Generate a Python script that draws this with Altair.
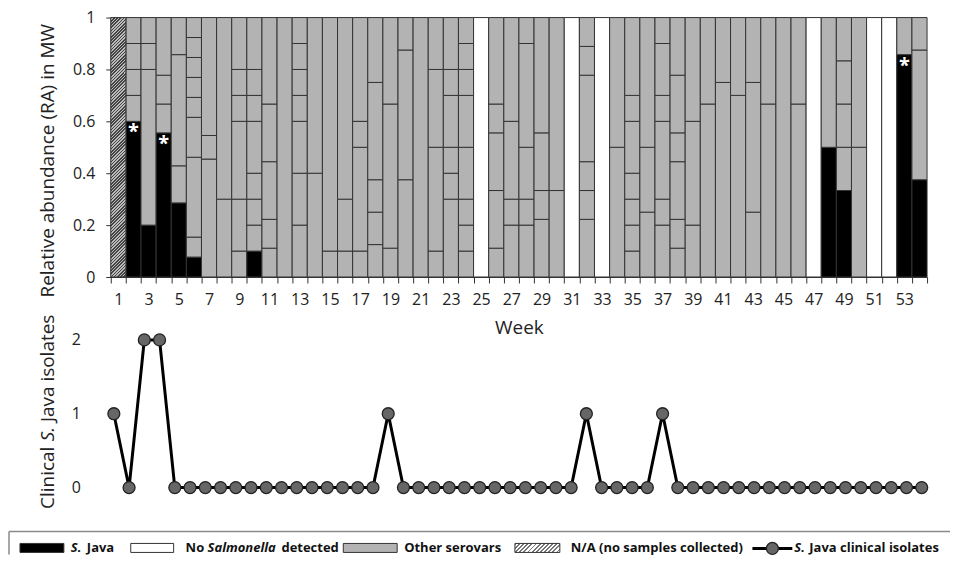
import altair as alt
import pandas as pd

# ---------------- data ----------------
weeks = list(range(1, 55))
na_weeks = [1]                              # no samples collected
none_weeks = [25, 31, 33, 47, 51, 52]       # no Salmonella detected
java_counts = [0, 6, 2, 5, 2, 1, 0, 0, 0, 1,
               0, 0, 0, 0, 0, 0, 0, 0, 0, 0,
               0, 0, 0, 0, 0, 0, 0, 0, 0, 0,
               0, 0, 0, 0, 0, 0, 0, 0, 0, 0,
               0, 0, 0, 0, 0, 0, 0, 1, 2, 0,
               0, 0, 6, 3]
other_counts = [
    [], [1, 1, 1, 1], [6, 1, 1], [1, 1, 2], [1, 3, 1],
    [1, 4, 2, 1, 1, 1, 1, 1], [5, 1, 5], [3, 7], [1, 2, 3, 1, 1, 2],
    [1, 1, 1, 2, 1, 1, 2], [1, 1, 2, 2, 3], [1], [2, 2, 2, 1, 1, 1, 1],
    [2, 3], [1, 9], [1, 2, 7], [1, 4, 1, 4], [1, 1, 1, 3, 2], [1, 5, 3],
    [3, 4, 1], [1], [1, 4, 3, 2], [3, 1, 1, 2, 1, 2], [1, 1, 1, 2, 2, 1, 1, 1],
    [], [1, 2, 2, 1, 3], [2, 1, 3, 4], [2, 1, 2, 4, 1], [2, 1, 2, 4], [1, 2],
    [], [2, 1, 1, 3, 1, 1], [], [1, 1], [1, 1, 1, 1, 2, 1, 3], [1, 1, 2],
    [2, 1, 3, 1, 2, 1], [1, 1, 2, 1, 2, 2], [1, 2, 2], [2, 1], [3, 1], [7, 3],
    [1, 2, 1], [2, 1], [1], [2, 1], [], [1], [1, 1, 1, 1], [1, 1], [], [],
    [1], [4, 1],
]
star_weeks = [2, 4, 53]
clinical = [1, 0, 2, 2, 0, 0, 0, 0, 0, 0,
            0, 0, 0, 0, 0, 0, 0, 0, 1, 0,
            0, 0, 0, 0, 0, 0, 0, 0, 0, 0,
            0, 1, 0, 0, 0, 0, 1, 0, 0, 0,
            0, 0, 0, 0, 0, 0, 0, 0, 0, 0,
            0, 0, 0, 0]
clinical_ticks = [0, 1, 2]

# ---------------- tables ----------------
rows = []
for i, w in enumerate(weeks):
    if w in na_weeks:
        rows.append(dict(week=w, y0=0.0, y1=1.0, cat="na"))
        continue
    if w in none_weeks:
        rows.append(dict(week=w, y0=0.0, y1=1.0, cat="none"))
        continue
    total = java_counts[i] + sum(other_counts[i])
    c = 0
    if java_counts[i] > 0:
        rows.append(dict(week=w, y0=0.0, y1=java_counts[i] / total, cat="java"))
        c = java_counts[i]
    for o in other_counts[i]:
        rows.append(dict(week=w, y0=c / total, y1=(c + o) / total, cat="other"))
        c += o
seg = pd.DataFrame(rows)

stars = pd.DataFrame({
    "week": star_weeks,
    "y": [java_counts[w - 1] / (java_counts[w - 1] + sum(other_counts[w - 1])) for w in star_weeks],
})
clin = pd.DataFrame({"week": weeks, "n": clinical})
clin_ticks = pd.DataFrame({"n": clinical_ticks})


def hatch(dx, dy, n, dark, light, frac=0.45):
    stops = []
    for k in range(n):
        a = round(k / n, 5)
        b = round((k + frac) / n, 5)
        c = round((k + 1) / n, 5)
        stops += [{"offset": a, "color": dark}, {"offset": b, "color": dark},
                  {"offset": b, "color": light}, {"offset": c, "color": light}]
    return {"gradient": "linear", "x1": 0, "y1": 0, "x2": dx, "y2": dy, "stops": stops}


FONT = "Open Sans"
TXT = "#222222"
LINE = "#333333"
GRAY = "#b3b3b3"
W = 818
NOVIEW = alt.ViewBackground(stroke="transparent", strokeWidth=0, strokeOpacity=0)

# ---------------- top panel ----------------
xenc = alt.X("week:O", scale=alt.Scale(paddingInner=0, paddingOuter=0),
             axis=alt.Axis(title="Week", labelAngle=0, labelOverlap=False,
                           labelExpr="datum.value % 2 == 1 ? datum.label : ''",
                           tickBand="extent", tickSize=6, labelPadding=9,
                           labelFontSize=16, labelColor=TXT, titleFontSize=19,
                           titleFontWeight="normal", titleColor=TXT, titlePadding=11,
                           domainColor=LINE, tickColor=LINE))
yenc = alt.Y("y0:Q", scale=alt.Scale(domain=[0, 1], nice=False),
             axis=alt.Axis(values=[0, 0.2, 0.4, 0.6, 0.8, 1], format="~g", grid=False,
                           tickSize=5, labelPadding=11, labelFontSize=16, labelColor=TXT,
                           domainColor=LINE, tickColor=LINE, labelOverlap=False,
                           title="Relative abundance (RA) in MW", titleFontSize=19,
                           titleFontWeight="normal", titleColor=TXT, titleAngle=270,
                           titleX=-63, titleY=143, titleBaseline="middle", titleAlign="center"))

bars = alt.Chart(seg).transform_filter("datum.cat != 'na'").mark_bar(
    stroke=LINE, strokeWidth=1, opacity=1
).encode(
    x=xenc, y=yenc, y2="y1:Q",
    color=alt.Color("cat:N", scale=alt.Scale(domain=["java", "other", "none"],
                                             range=["#000000", GRAY, "#ffffff"]), legend=None),
)
na_bar = alt.Chart(seg).transform_filter("datum.cat == 'na'").mark_bar(
    stroke=LINE, strokeWidth=1, opacity=1,
    fill=hatch(0.0615, 1.055, 86, "#444444", "#bbbbbb", 0.5),
).encode(x=xenc, y=yenc, y2="y1:Q")
star_txt = alt.Chart(stars).mark_text(
    text="*", color="white", fontSize=20, fontWeight="bold", baseline="top", dy=1, font=FONT
).encode(x="week:O", y="y:Q")

top = alt.layer(bars, na_bar, star_txt).properties(width=W, height=260, view=NOVIEW)

# ---------------- bottom panel ----------------
bx = alt.X("week:Q", scale=alt.Scale(domain=[0.8, 54.35], nice=False, zero=False), axis=None)
bscale = alt.Scale(domain=[0, 2], nice=False)
by = alt.Y("n:Q", scale=bscale, axis=None)
cl_line = alt.Chart(clin).mark_line(color="black", strokeWidth=3).encode(x=bx, y=by)
cl_pts = alt.Chart(clin).mark_circle(size=143, color="#666666", stroke="#222222",
                                      strokeWidth=1.3, opacity=1).encode(x=bx, y=by)
# tick labels of the isolate-count axis (positioned by the y scale)
cl_lab = alt.Chart(clin_ticks).mark_text(
    align="right", baseline="middle", fontSize=16, font=FONT, color=TXT, dx=-30
).encode(x=alt.value(0), y=by, text=alt.Text("n:Q", format="d"))

# y title with italic "S." (three rotated pieces, read bottom-to-top)
one = pd.DataFrame({"a": [0]})
ttl_a = alt.Chart(one).mark_text(
    text="Clinical", angle=270, align="left", baseline="middle", fontSize=19, font=FONT, color=TXT
).encode(x=alt.value(-63), y=alt.value(169.4))
ttl_b = alt.Chart(one).mark_text(
    text="S.", angle=270, align="left", baseline="middle", fontSize=19, font=FONT, color=TXT,
    fontStyle="italic"
).encode(x=alt.value(-63), y=alt.value(101.6))
ttl_c = alt.Chart(one).mark_text(
    text="Java isolates", angle=270, align="left", baseline="middle", fontSize=19, font=FONT,
    color=TXT
).encode(x=alt.value(-63), y=alt.value(82.4))

bottom = alt.layer(cl_line, cl_pts, cl_lab, ttl_a, ttl_b, ttl_c).properties(
    width=W, height=148, view=NOVIEW)

# ---------------- legend panel ----------------
OX, OY = 110, 549   # page offset of legend panel origin (layout only)
lx = alt.X("x:Q", scale=alt.Scale(domain=[0, W], range=[0, W], nice=False, zero=False), axis=None)
lx2 = alt.X2("x2:Q")
ly = alt.Y("y:Q", scale=alt.Scale(domain=[0, 24], range=[0, 24], nice=False, zero=False), axis=None)
ly2 = alt.Y2("y2:Q")

sw = pd.DataFrame({
    "x": [19 - OX, 130 - OX, 343 - OX],
    "x2": [63 - OX, 173 - OX, 397 - OX],
    "y": [542 - OY] * 3, "y2": [551 - OY] * 3,
    "k": ["java", "none", "other"],
})
swatches = alt.Chart(sw).mark_rect(stroke=LINE, strokeWidth=1).encode(
    x=lx, x2=lx2, y=ly, y2=ly2,
    color=alt.Color("k:N", scale=alt.Scale(domain=["java", "other", "none"],
                                           range=["#000000", GRAY, "#ffffff"]), legend=None))
sw_h = pd.DataFrame({"x": [515 - OX], "x2": [560 - OX], "y": [542 - OY], "y2": [551 - OY]})
swatch_h = alt.Chart(sw_h).mark_rect(stroke=LINE, strokeWidth=1,
                                     fill=hatch(1.154, 0.2308, 13, "#777777", "#ffffff")).encode(
    x=lx, x2=lx2, y=ly, y2=ly2)

frame = pd.DataFrame({"x": [8 - OX, 8 - OX], "x2": [951 - OX, 8 - OX],
                      "y": [530 - OY, 530 - OY], "y2": [530 - OY, 553 - OY]})
frame_r = alt.Chart(frame).mark_rule(color="#8a8a8a", strokeWidth=1.5).encode(
    x=lx, x2=lx2, y=ly, y2=ly2)

sym_line = pd.DataFrame({"x": [753 - OX], "x2": [793 - OX], "y": [547 - OY], "y2": [547 - OY]})
sym_l = alt.Chart(sym_line).mark_rule(color="black", strokeWidth=3).encode(
    x=lx, x2=lx2, y=ly, y2=ly2)
sym_pt = pd.DataFrame({"x": [773 - OX], "y": [547 - OY]})
sym_p = alt.Chart(sym_pt).mark_circle(size=143, color="#666666", stroke="#222222",
                                       strokeWidth=1.3, opacity=1).encode(x=lx, y=ly)

texts = pd.DataFrame({
    "x": [70 - OX, 86 - OX, 185 - OX, 207 - OX, 281 - OX, 404 - OX, 571 - OX, 795 - OX, 810 - OX],
    "y": [546.5 - OY] * 9,
    "t": ["S.", "Java", "No", "Salmonella", "detected", "Other serovars",
          "N/A (no samples collected)", "S.", "Java clinical isolates"],
    "st": ["italic", "normal", "normal", "italic", "normal", "normal", "normal", "italic", "normal"],
})
leg_txt_n = alt.Chart(texts).transform_filter("datum.st == 'normal'").mark_text(
    align="left", baseline="middle", fontSize=13, fontWeight="bold", font=FONT, color="#111111"
).encode(x=lx, y=ly, text="t:N")
leg_txt_i = alt.Chart(texts).transform_filter("datum.st == 'italic'").mark_text(
    align="left", baseline="middle", fontSize=13, fontWeight="bold", fontStyle="italic",
    font=FONT, color="#111111"
).encode(x=lx, y=ly, text="t:N")

legend = alt.layer(frame_r, swatches, swatch_h, sym_l, sym_p, leg_txt_n, leg_txt_i).properties(
    width=W, height=1, view=NOVIEW)

chart = alt.vconcat(top, bottom, legend, spacing=63, bounds="flush").properties(
    padding={"left": 0, "top": 1, "right": 0, "bottom": 0}
).configure_view(strokeWidth=0, stroke="transparent").configure(font=FONT)

chart.save("out.html", embed_options={"renderer": "svg", "actions": False})
